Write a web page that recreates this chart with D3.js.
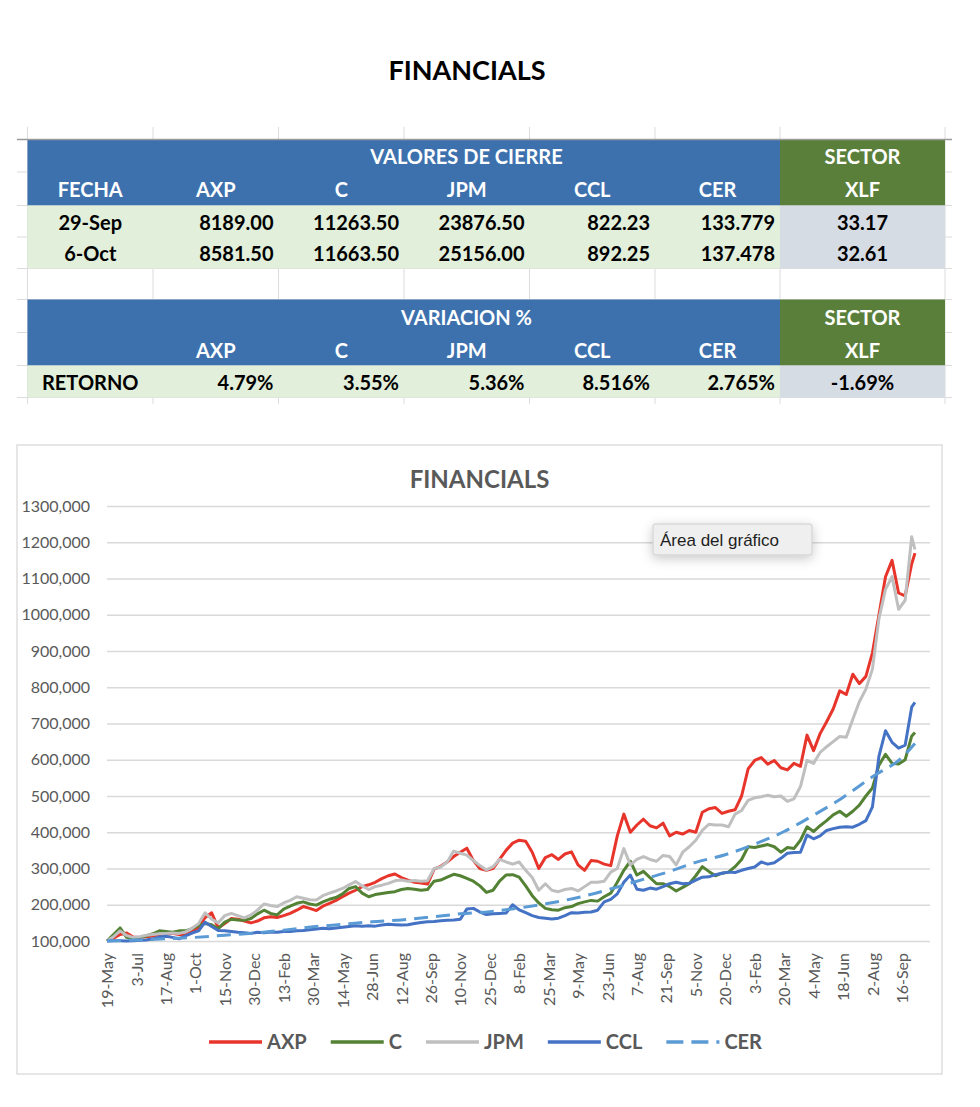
<!DOCTYPE html>
<html>
<head>
<meta charset="utf-8">
<script src="https://cdn.jsdelivr.net/npm/d3@7"></script>
<style>
    body { margin: 0; background: #fff; }
    svg text { font-family: Lato, "Open Sans", sans-serif; }
</style>
</head>
<body>
<svg id="hoja" width="980" height="1107"></svg>
<script>
// ---- tabla de cierres ----
var columnas = ["FECHA", "AXP", "C", "JPM", "CCL", "CER"];
var fechasCierre = ["29-Sep", "6-Oct"];
var cierres = [
    ["8189.00", "11263.50", "23876.50", "822.23", "133.779"],
    ["8581.50", "11663.50", "25156.00", "892.25", "137.478"]
];
var cierresXLF = ["33.17", "32.61"];
var retornos = ["4.79%", "3.55%", "5.36%", "8.516%", "2.765%"];
var retornoXLF = "-1.69%";

// ---- serie del grafico (base 100, una muestra cada 10 dias, ultimo punto = 6-Oct) ----
var inicio = new Date(2020, 4, 19),
    fin = new Date(2023, 9, 6),
    pasoDias = 10;

var axp = [100,108,118,122,111,110,112,114,118,119,
    121,118,117,125,138,165,178,136,148,162,
    160,155,150,155,164,167,165,170,176,185,
    195,190,184,196,204,212,222,232,240,250,
    255,262,272,280,285,275,268,262,260,257,
    298,306,318,333,345,356,322,300,295,300,
    325,350,370,378,375,345,300,330,338,325,
    340,346,310,295,322,320,312,308,390,450,
    400,420,436,418,412,425,390,400,395,405,
    400,455,465,468,452,458,462,500,575,598,
    606,588,598,578,572,590,582,668,625,672,
    705,740,790,780,836,810,830,895,1000,1105,
    1150,1060,1052,1140,1170];

var c = [100,118,136,110,106,110,114,120,128,126,
    124,128,128,134,143,148,145,134,152,160,
    158,157,162,175,185,176,172,188,196,204,
    208,202,199,208,215,220,230,245,250,232,
    222,228,231,234,236,242,245,243,240,242,
    265,268,276,284,280,273,265,252,234,240,
    265,282,283,276,252,225,205,190,186,185,
    192,195,203,208,212,210,222,232,262,295,
    320,282,292,275,258,258,250,238,248,258,
    280,305,292,280,287,290,305,325,360,358,
    362,366,360,345,358,355,378,415,402,418,
    432,448,458,444,458,475,500,522,585,615,
    590,588,600,665,675];

var jpm = [100,112,128,115,110,112,116,118,120,121,
    122,121,125,135,148,178,160,150,170,176,
    170,164,172,185,202,198,195,205,212,222,
    218,214,213,225,232,238,245,255,264,252,
    242,250,254,259,266,268,265,267,265,266,
    300,304,318,348,342,337,322,308,296,305,
    325,318,312,318,295,275,240,258,240,236,
    242,245,238,250,262,262,265,290,300,355,
    310,325,333,325,320,336,333,310,345,360,
    378,405,422,420,420,415,450,460,488,495,
    498,502,498,500,485,492,526,598,590,620,
    636,650,664,662,712,760,795,850,990,1070,
    1105,1015,1040,1215,1180];

var ccl = [100,101,101,100,101,102,103,106,111,113,
    110,106,114,122,128,152,140,129,128,126,
    124,123,121,124,123,125,124,126,126,128,
    129,131,133,135,134,136,138,140,142,141,
    142,141,144,146,145,144,145,148,151,153,
    154,156,157,158,160,188,190,180,173,175,
    176,177,200,186,178,170,165,163,161,163,
    170,178,177,179,180,185,208,215,230,262,
    282,243,240,246,243,250,258,262,258,259,
    268,276,277,283,287,290,289,295,300,304,
    318,312,316,328,342,344,345,392,382,390,
    405,410,414,415,414,422,432,470,610,680,
    648,632,640,745,758];

// CER: una muestra cada 45 dias (mismas fechas que las etiquetas) + 6-Oct
var pasoCER = 45;
var cer = [100,103,106,110,116,122,130,139,146,153,
    158,166,175,181,191,204,220,241,265,289,
    317,338,367,402,447,496,553,606,645];

var ticksY = [100, 200, 300, 400, 500, 600, 700, 800, 900, 1000, 1100, 1200, 1300];
var nEtiquetasX = 28, pasoEtiquetas = 45;

var series = [
    {name: "AXP", values: axp, paso: pasoDias, color: "#E8352B", dash: null},
    {name: "C", values: c, paso: pasoDias, color: "#548235", dash: null},
    {name: "JPM", values: jpm, paso: pasoDias, color: "#BFBFBF", dash: null},
    {name: "CCL", values: ccl, paso: pasoDias, color: "#4472C4", dash: null},
    {name: "CER", values: cer, paso: pasoCER, color: "#5B9BD5", dash: "14,8"}
];

var svg = d3.select("#hoja");

// ---------------- titulo de la hoja ----------------
svg.append("text")
    .attr("x", 467).attr("y", 80)
    .attr("text-anchor", "middle")
    .style("font-size", "27px").style("font-weight", 700).style("fill", "#000")
    .text("FINANCIALS");

// ---------------- tabla ----------------
var colX = [27.5, 153, 278.5, 404, 529.5, 655, 780, 945];
var filaY = [139.5, 172, 205.5, 237, 268.5, 299.5, 332.5, 365.5, 397.5];

var grid = svg.append("g").attr("class", "grid-hoja");
colX.forEach(function (x) {
    grid.append("line").attr("x1", x).attr("x2", x).attr("y1", 127).attr("y2", 404)
        .style("stroke", "#DCDCDC").style("stroke-width", 1);
});
filaY.forEach(function (y) {
    grid.append("line").attr("x1", 17).attr("x2", 952).attr("y1", y).attr("y2", y)
        .style("stroke", "#DCDCDC").style("stroke-width", 1);
});

function celda(x0, x1, y0, y1, fill) {
    svg.append("rect").attr("x", x0).attr("y", y0)
        .attr("width", x1 - x0).attr("height", y1 - y0)
        .style("fill", fill);
}
var azul = "#3D71AE", verde = "#5A7F3B", verdeClaro = "#E2EFDA", gris = "#D6DCE4";
celda(colX[0], colX[6], filaY[0], filaY[2], azul);
celda(colX[6], colX[7], filaY[0], filaY[2], verde);
celda(colX[0], colX[6], filaY[2], filaY[4], verdeClaro);
celda(colX[6], colX[7], filaY[2], filaY[4], gris);
celda(colX[0], colX[6], filaY[5], filaY[7], azul);
celda(colX[6], colX[7], filaY[5], filaY[7], verde);
celda(colX[0], colX[6], filaY[7], filaY[8], verdeClaro);
celda(colX[6], colX[7], filaY[7], filaY[8], gris);

svg.append("line").attr("x1", 17).attr("x2", 952).attr("y1", 139.5).attr("y2", 139.5)
    .style("stroke", "#9A9A9A").style("stroke-width", 1.5);

function texto(x, y, t, anchor, color) {
    svg.append("text")
        .attr("x", x).attr("y", y).attr("dy", "0.36em")
        .attr("text-anchor", anchor)
        .style("font-size", "20px").style("font-weight", 700)
        .style("fill", color)
        .text(t);
}
function centro(i) { return (colX[i] + colX[i + 1]) / 2; }
function filaC(j) { return (filaY[j] + filaY[j + 1]) / 2 + 1.5; }

texto((colX[1] + colX[6]) / 2, filaC(0), "VALORES DE CIERRE", "middle", "#fff");
texto(centro(6), filaC(0), "SECTOR", "middle", "#fff");
columnas.forEach(function (t, i) { texto(centro(i), filaC(1), t, "middle", "#fff"); });
texto(centro(6), filaC(1), "XLF", "middle", "#fff");
fechasCierre.forEach(function (f, j) {
    texto(centro(0), filaC(2 + j), f, "middle", "#000");
    cierres[j].forEach(function (v, i) { texto(colX[i + 2] - 5, filaC(2 + j), v, "end", "#000"); });
    texto(centro(6), filaC(2 + j), cierresXLF[j], "middle", "#000");
});

texto((colX[1] + colX[6]) / 2, filaC(5), "VARIACION %", "middle", "#fff");
texto(centro(6), filaC(5), "SECTOR", "middle", "#fff");
columnas.slice(1).forEach(function (t, i) { texto(centro(i + 1), filaC(6), t, "middle", "#fff"); });
texto(centro(6), filaC(6), "XLF", "middle", "#fff");
texto(centro(0), filaC(7), "RETORNO", "middle", "#000");
retornos.forEach(function (v, i) { texto(colX[i + 2] - 5, filaC(7), v, "end", "#000"); });
texto(centro(6), filaC(7), retornoXLF, "middle", "#000");

// ---------------- grafico ----------------
var gris_texto = "#595959";
svg.append("rect").attr("x", 17).attr("y", 445).attr("width", 925).attr("height", 629)
    .style("fill", "#fff").style("stroke", "#D9D9D9").style("stroke-width", 1.3);

svg.append("text")
    .attr("x", 479.5).attr("y", 488)
    .attr("text-anchor", "middle")
    .style("font-size", "24px").style("font-weight", 700).style("fill", gris_texto)
    .text("FINANCIALS");

var x = d3.scaleTime()
    .domain([inicio, d3.timeDay.offset(inicio, 1258)])
    .range([107, 930]);
var y = d3.scaleLinear().domain([100, 1300]).range([941, 506]);

var fmtY = function (d) { return d3.format(".3f")(d).replace(".", ","); };

var yAxis = svg.append("g")
    .attr("class", "y axis")
    .attr("transform", "translate(107,0)")
    .call(d3.axisLeft(y).tickValues(ticksY).tickFormat(fmtY).tickSize(-823).tickPadding(17));
yAxis.select(".domain").remove();
yAxis.selectAll(".tick line").style("stroke", "#D9D9D9").style("stroke-width", 1.3);
yAxis.selectAll(".tick text")
    .style("font-size", "16px").style("fill", gris_texto)
    .style("font-family", "Lato, sans-serif");

var fechasEtiquetas = d3.range(nEtiquetasX).map(function (k) {
    return d3.timeDay.offset(inicio, k * pasoEtiquetas);
});
var xAxis = svg.append("g")
    .attr("class", "x axis")
    .attr("transform", "translate(0,941)")
    .call(d3.axisBottom(x).tickValues(fechasEtiquetas).tickFormat(d3.timeFormat("%-d-%b")).tickSize(0));
xAxis.select(".domain").remove();
xAxis.selectAll(".tick text")
    .attr("transform", "rotate(-90)")
    .attr("x", -12).attr("y", 0).attr("dy", "0.35em")
    .style("text-anchor", "end")
    .style("font-size", "16px").style("fill", gris_texto)
    .style("font-family", "Lato, sans-serif");

function puntos(s) {
    var n = s.values.length;
    return s.values.map(function (v, i) {
        var fecha = i === n - 1 ? fin : d3.timeDay.offset(inicio, i * s.paso);
        return {x: fecha, y: v};
    });
}

var line = d3.line()
    .x(function (d) { return x(d.x); })
    .y(function (d) { return y(d.y); });

var lineas = svg.append("g").attr("class", "series");
series.forEach(function (s) {
    lineas.append("path")
        .attr("class", "line")
        .attr("d", line.curve(s.dash ? d3.curveMonotoneX : d3.curveLinear)(puntos(s)))
        .style("fill", "none")
        .style("stroke", s.color)
        .style("stroke-width", 3)
        .style("stroke-linejoin", "round")
        .style("stroke-dasharray", s.dash);
});

// leyenda
var leyenda = svg.append("g").attr("class", "legend");
var largoLinea = 53, xl = 0;
series.forEach(function (s) {
    var g = leyenda.append("g").attr("transform", "translate(" + xl + ",0)");
    g.append("line").attr("x1", 0).attr("x2", largoLinea).attr("y1", 0).attr("y2", 0)
        .style("stroke", s.color).style("stroke-width", 3.5)
        .style("stroke-dasharray", s.dash ? "17,8" : null);
    var t = g.append("text")
        .attr("x", largoLinea + 5).attr("dy", "0.36em")
        .style("font-size", "20px").style("font-weight", 700).style("fill", gris_texto)
        .text(s.name);
    xl += largoLinea + 5 + t.node().getComputedTextLength() + 24;
});
xl -= 24;
leyenda.attr("transform", "translate(" + (479.5 - xl / 2 + 6) + ",1042)");

// globo "Área del gráfico"
var defs = svg.append("defs");
var f = defs.append("filter").attr("id", "sombra").attr("x", "-30%").attr("y", "-60%")
    .attr("width", "160%").attr("height", "240%");
f.append("feDropShadow").attr("dx", 0).attr("dy", 3).attr("stdDeviation", 6)
    .attr("flood-color", "#000").attr("flood-opacity", 0.22);
svg.append("rect").attr("x", 653).attr("y", 524).attr("width", 159).attr("height", 31)
    .attr("rx", 2)
    .style("fill", "#EFEFEF").style("stroke", "#CDCDCD").style("stroke-width", 1)
    .attr("filter", "url(#sombra)");
svg.append("text").attr("x", 660).attr("y", 546)
    .style("font-family", "'Liberation Sans', Arial, sans-serif")
    .style("font-size", "17px").style("fill", "#1E1E1E")
    .text("Área del gráfico");
</script>
</body>
</html>
